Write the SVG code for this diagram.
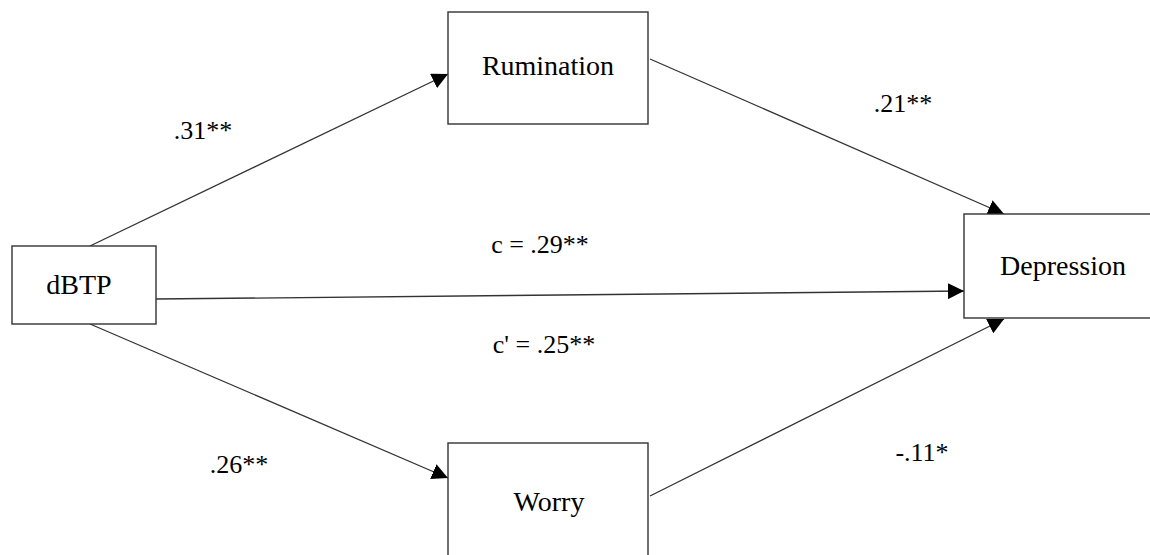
<svg xmlns="http://www.w3.org/2000/svg" width="1150" height="555" viewBox="0 0 1150 555">
  <style>
    .box { fill: #ffffff; stroke: #333333; stroke-width: 1.4; }
    .name { font-size: 28px; fill: #000000; text-anchor: middle; }
    .coef { font-size: 26px; fill: #000000; text-anchor: middle; }
    .path { stroke: #333333; stroke-width: 1.3; fill: none; marker-end: url(#head); }
  </style>
  <defs>
    <marker id="head" viewBox="0 0 10 10" refX="10" refY="5" markerWidth="16" markerHeight="16" markerUnits="userSpaceOnUse" orient="auto">
      <path d="M0,0 L10,5 L0,10 Z" fill="#000000"/>
    </marker>
  </defs>
  <rect width="1150" height="555" fill="#ffffff"/>

  <g id="connectors">
    <line class="path" x1="90" y1="246" x2="448" y2="74"/>
    <line class="path" x1="650" y1="59" x2="1004" y2="214"/>
    <line class="path" x1="156" y1="299" x2="964" y2="291"/>
    <line class="path" x1="90" y1="324" x2="448" y2="478"/>
    <line class="path" x1="650" y1="496" x2="1004" y2="319"/>
  </g>

  <g id="labels" font-family="'Liberation Serif', 'DejaVu Serif', serif">
    <text class="coef" x="203" y="139">.31**</text>
    <text class="coef" x="903" y="112">.21**</text>
    <text class="coef" x="540" y="253">c = .29**</text>
    <text class="coef" x="544" y="353">c' = .25**</text>
    <text class="coef" x="239" y="473">.26**</text>
    <text class="coef" x="922" y="461">-.11*</text>
  </g>

  <g font-family="'Liberation Serif', 'DejaVu Serif', serif">
    <g id="node-dbtp">
      <rect class="box" x="12" y="246" width="144" height="78"/>
      <text class="name" x="79" y="294">dBTP</text>
    </g>
    <g id="node-rumination">
      <rect class="box" x="448" y="12" width="200" height="112"/>
      <text class="name" x="548" y="75">Rumination</text>
    </g>
    <g id="node-depression">
      <rect class="box" x="964" y="214" width="190" height="104"/>
      <text class="name" x="1063" y="275">Depression</text>
    </g>
    <g id="node-worry">
      <rect class="box" x="448" y="443" width="200" height="130"/>
      <text class="name" x="549" y="511">Worry</text>
    </g>
  </g>
</svg>
